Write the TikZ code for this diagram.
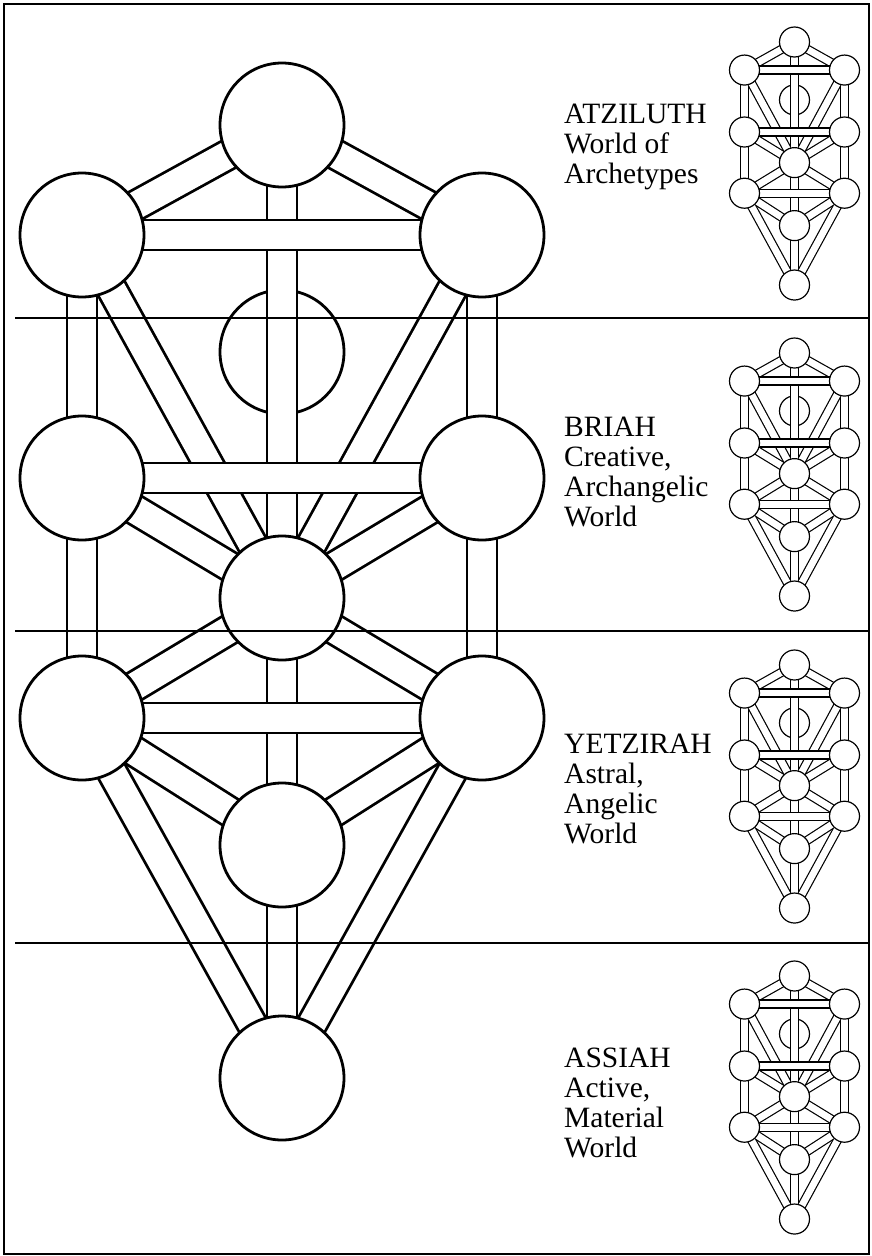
\documentclass[tikz,border=0pt]{standalone}
\usepackage{fontspec}
\setmainfont{Liberation Serif}
\usepackage{tikz}
\usetikzlibrary{positioning}
\pgfdeclarelayer{under}
\pgfdeclarelayer{paths}
\pgfdeclarelayer{bars}
\pgfsetlayers{under,paths,bars,main}

\tikzset{
  sefira/.style={circle, draw, fill=white, inner sep=0pt, outer sep=0pt},
  world/.style={anchor=base west, inner sep=0pt, font=\fontsize{29.5}{30}\selectfont},
}

\newcommand{\treepaths}{ke/ch, ke/bi, ke/ti, ch/ti, ch/he, bi/ti, bi/ge, he/ti, he/ne,
  ge/ti, ge/ho, ti/ne, ti/ho, ti/ye, ne/ye, ne/ma, ho/ye, ho/ma, ye/ma}
\newcommand{\treebars}{ch/bi, he/ge, ne/ho}

% #1 name, #2 x, #3 y, #4 scaling, #5 circle size, #6 path width, #7 line width
\newcommand{\sefirot}[7]{%
  \begin{scope}[shift={(#2,#3)}, #4, line width=#7]
    \foreach \n/\px/\py in {ke/0/0, ch/200/110, bi/-200/110, he/200/353, ge/-200/353,
        ti/0/473, ne/200/593, ho/-200/593, ye/0/720, ma/0/953}
      \node[sefira, minimum size=#5] (#1\n) at (\px,\py) {};
    \begin{pgfonlayer}{under}
      \node[sefira, minimum size=#5, line width=#7] (#1da) at (0,227) {};
    \end{pgfonlayer}
    \begin{pgfonlayer}{paths}
      \foreach \a/\b in \treepaths
        \draw[line width=#6+#7] (#1\a.center) -- (#1\b.center);
      \foreach \a/\b in \treepaths
        \draw[white, line width=#6-#7] (#1\a.center) -- (#1\b.center);
    \end{pgfonlayer}
    \begin{pgfonlayer}{bars}
      \foreach \a/\b in \treebars {
        \draw[line width=#6+#7] (#1\a.center) -- (#1\b.center);
        \draw[white, line width=#6-#7] (#1\a.center) -- (#1\b.center);
      }
    \end{pgfonlayer}
  \end{scope}%
}

\begin{document}
\begin{tikzpicture}[x=1pt, y=-1pt]
  \useasboundingbox (0,0) rectangle (871,1256);

  \sefirot{big}{282}{125}{scale=1}{124pt}{30pt}{2.8pt}
  \foreach \ty [count=\i] in {42,353,665,976} {
    \sefirot{small\i}{794.5}{\ty}{xscale=0.25, yscale=0.255}{30pt}{8pt}{1.2pt}
  }

  \foreach \txt [count=\i from 0] in {ATZILUTH, World of, Archetypes}
    \node[world] (atziluth\i) at (564,123+30*\i) {\txt};
  \foreach \txt [count=\i from 0] in {BRIAH, {Creative,}, Archangelic, World}
    \node[world] (briah\i) at (564,436+30*\i) {\txt};
  \foreach \txt [count=\i from 0] in {YETZIRAH, {Astral,}, Angelic, World}
    \node[world] (yetzirah\i) at (564,753+30*\i) {\txt};
  \foreach \txt [count=\i from 0] in {ASSIAH, {Active,}, Material, World}
    \node[world] (assiah\i) at (564,1067+30*\i) {\txt};

  \foreach \y in {318,631,943}
    \draw[line width=2.5pt] (15,\y) -- (869,\y);
  \draw[line width=2.8pt] (4,4) rectangle (869,1254);
\end{tikzpicture}
\end{document}
